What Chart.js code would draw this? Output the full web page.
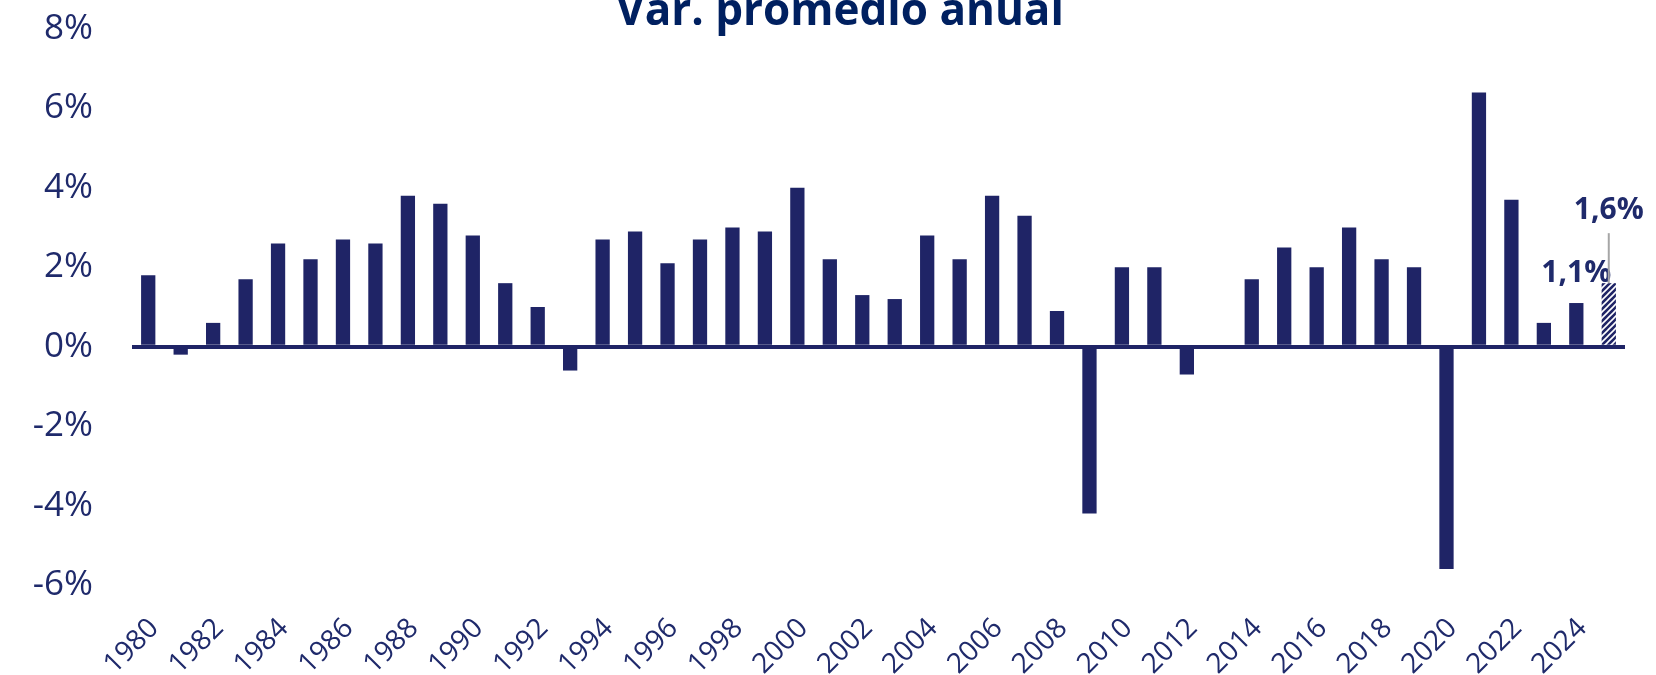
<!DOCTYPE html>
<html>
<head>
<meta charset="utf-8">
<script src="https://cdn.jsdelivr.net/npm/chart.js@4"></script>
<style>
html, body { margin: 0; padding: 0; background: #fff; }
#wrap { width: 1656px; height: 675px; }
</style>
</head>
<body>
<div id="wrap"><canvas id="pibChart" width="1656" height="675"></canvas></div>
<script>
// datos
const years = ['1980','1981','1982','1983','1984','1985','1986','1987','1988','1989',
               '1990','1991','1992','1993','1994','1995','1996','1997','1998','1999',
               '2000','2001','2002','2003','2004','2005','2006','2007','2008','2009',
               '2010','2011','2012','2013','2014','2015','2016','2017','2018','2019',
               '2020','2021','2022','2023','2024','2025'];
const growth = [1.8, -0.2, 0.6, 1.7, 2.6, 2.2, 2.7, 2.6, 3.8, 3.6,
                2.8, 1.6, 1.0, -0.6, 2.7, 2.9, 2.1, 2.7, 3.0, 2.9,
                4.0, 2.2, 1.3, 1.2, 2.8, 2.2, 3.8, 3.3, 0.9, -4.2,
                2.0, 2.0, -0.7, 0.0, 1.7, 2.5, 2.0, 3.0, 2.2, 2.0,
                -5.6, 6.4, 3.7, 0.6, 1.1, 1.6];
const projectedYears = ['2025'];
const labelledYears = ['2024', '2025'];
const yTicks = [-6, -4, -2, 0, 2, 4, 6, 8];
const chartTitle = 'Var. promedio anual';

const navy = '#1f2466';
const textNavy = '#1f2a6b';
const titleNavy = '#002060';
const fontFam = "'Open Sans', 'Noto Sans', sans-serif";

const makeHatch = () => {
    const c = document.createElement('canvas');
    c.width = 6; c.height = 6;
    const g = c.getContext('2d');
    g.fillStyle = navy;
    g.fillRect(0, 0, 6, 6);
    g.strokeStyle = '#ffffff';
    g.lineWidth = 1.6;
    g.beginPath();
    g.moveTo(0, 6); g.lineTo(6, 0);
    g.moveTo(-1, 1); g.lineTo(1, -1);
    g.moveTo(5, 7); g.lineTo(7, 5);
    g.stroke();
    return g.createPattern(c, 'repeat');
}

const fmt = (v) => v.toFixed(1).replace('.', ',') + '%';

// titulo (cortado arriba) + etiquetas de los dos ultimos años
const extras = {
    id: 'extras',
    afterDatasetsDraw(chart) {
        const ctx = chart.ctx;
        const meta = chart.getDatasetMeta(0);
        ctx.save();
        ctx.fillStyle = titleNavy;
        ctx.font = `bold 44px ${fontFam}`;
        ctx.textAlign = 'center';
        ctx.textBaseline = 'alphabetic';
        ctx.fillText(chartTitle, 840, 25);

        ctx.font = `bold 30px ${fontFam}`;
        ctx.fillStyle = textNavy;
        labelledYears.forEach((yr, k) => {
            const i = years.indexOf(yr);
            const bar = meta.data[i];
            const last = k === labelledYears.length - 1;
            const lift = last ? 64 : 21;
            if (last) {
                ctx.strokeStyle = '#a6a6a6';
                ctx.lineWidth = 2;
                ctx.beginPath();
                ctx.moveTo(bar.x, bar.y);
                ctx.lineTo(bar.x, bar.y - 50);
                ctx.stroke();
            }
            ctx.fillText(fmt(growth[i]), bar.x, bar.y - lift);
        });
        ctx.restore();
    }
};

const loadChart = () => {
    const el = document.getElementById('pibChart');
    const hatch = makeHatch();
    new Chart(el.getContext('2d'), {
        type: 'bar',
        data: {
            labels: years,
            datasets: [{
                data: growth,
                backgroundColor: years.map(y => projectedYears.includes(y) ? hatch : navy),
                borderWidth: 0,
                barPercentage: 0.44,
                categoryPercentage: 1.0
            }]
        },
        options: {
            responsive: false,
            animation: false,
            devicePixelRatio: 1,
            layout: { padding: { top: 29, right: 31, left: 0, bottom: 0 } },
            plugins: {
                legend: { display: false },
                tooltip: { enabled: false },
                title: { display: false }
            },
            scales: {
                x: {
                    grid: { display: false },
                    border: { display: false },
                    afterFit: (s) => {
                        s.height = 90;
                        s.paddingLeft = 0;
                        s.paddingRight = 0;
                    },
                    ticks: {
                        autoSkip: false,
                        maxRotation: 45,
                        minRotation: 45,
                        padding: 19,
                        labelOffset: 6,
                        color: textNavy,
                        font: { family: fontFam, size: 28 },
                        callback: (v, i) => i % 2 === 0 ? years[i] : ''
                    }
                },
                y: {
                    min: yTicks[0],
                    max: yTicks[yTicks.length - 1],
                    afterFit: (s) => {
                        s.width = 132;
                        s.paddingTop = 0;
                        s.paddingBottom = 0;
                    },
                    afterBuildTicks: (s) => { s.ticks = yTicks.map(v => ({ value: v })); },
                    border: { display: false },
                    grid: {
                        drawTicks: false,
                        color: (c) => c.tick && c.tick.value === 0 ? navy : 'rgba(0,0,0,0)',
                        lineWidth: (c) => c.tick && c.tick.value === 0 ? 4 : 0
                    },
                    ticks: {
                        padding: 39,
                        color: textNavy,
                        font: { family: fontFam, size: 35 },
                        callback: (v) => v + '%'
                    }
                }
            }
        },
        plugins: [extras]
    });
}

loadChart();
</script>
</body>
</html>
